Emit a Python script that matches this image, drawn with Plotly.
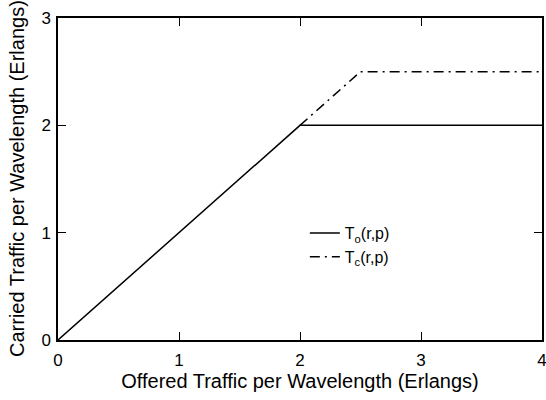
import plotly.graph_objects as go

# Data
to_x = [0, 2, 4]
to_y = [0, 2, 2]
tc_x = [2, 2.5, 4]
tc_y = [2, 2.5, 2.5]
x_ticks = [0, 1, 2, 3, 4]
y_ticks = [0, 1, 2, 3]
x_title = "Offered Traffic per Wavelength (Erlangs)"
y_title = "Carried Traffic per Wavelength (Erlangs)"

fig = go.Figure()
fig.add_trace(go.Scatter(x=to_x, y=to_y, mode="lines", name="T<sub>o</sub>(r,p)",
                         line=dict(color="black", width=1.5)))
fig.add_trace(go.Scatter(x=tc_x, y=tc_y, mode="lines", name="T<sub>c</sub>(r,p)",
                         line=dict(color="black", width=1.5, dash="10px,5px,2px,5px")))

axis_common = dict(showgrid=False, zeroline=False, showline=True, linecolor="black",
                   linewidth=1.5, mirror="ticks", ticks="inside", ticklen=8,
                   tickcolor="black", tickwidth=1, automargin=False,
                   ticklabeloverflow="allow",
                   tickfont=dict(size=17, color="black"))
fig.update_layout(
    width=546, height=400,
    margin=dict(l=58, r=4, t=18, b=60),
    paper_bgcolor="white", plot_bgcolor="white",
    font=dict(family="Liberation Sans, Arial, sans-serif", color="black", size=17),
    xaxis=dict(range=[0, 4], tickvals=x_ticks, ticklabelstandoff=4,
               title=dict(text=x_title, standoff=2, font=dict(size=20)),
               **axis_common),
    yaxis=dict(range=[0, 3], tickvals=y_ticks, ticklabelstandoff=2,
               **axis_common),
    legend=dict(x=0.51, y=0.385, xanchor="left", yanchor="top",
                bgcolor="rgba(0,0,0,0)", font=dict(size=16), tracegroupgap=0,
                itemwidth=30),
    showlegend=True,
)
fig.add_annotation(text=y_title, textangle=-90, xref="paper", yref="paper",
                   x=-0.0847, y=0.5, xanchor="center", yanchor="middle",
                   showarrow=False, font=dict(size=20, color="black"))
fig.write_html("out.html")
